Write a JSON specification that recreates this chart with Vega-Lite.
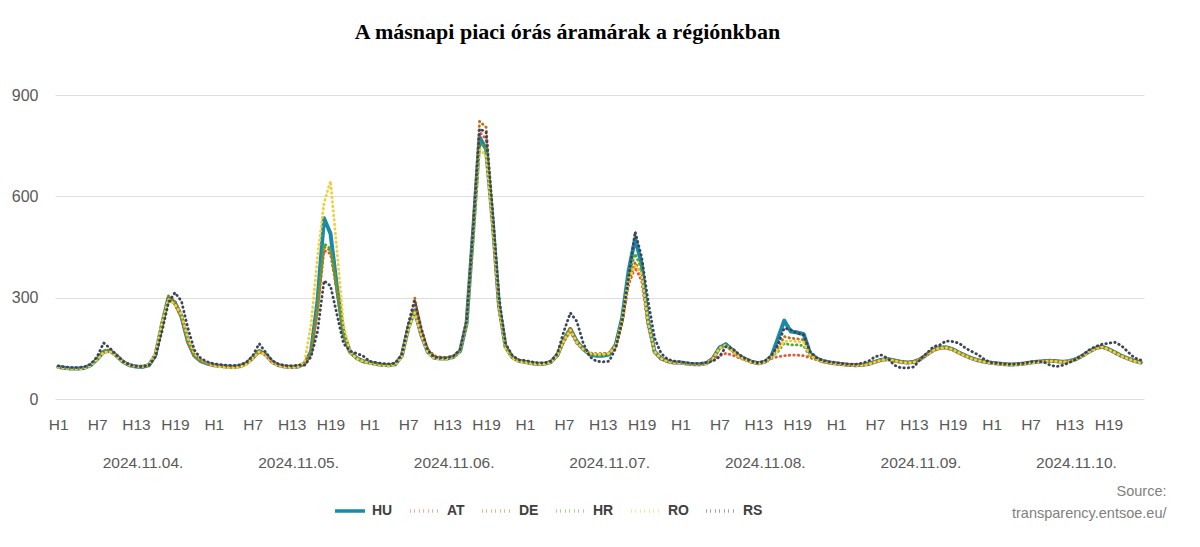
{
  "$schema": "https://vega.github.io/schema/vega-lite/v6.json",
  "width": 1089,
  "height": 304,
  "autosize": {"type": "none"},
  "padding": {"left": 55, "top": 95, "right": 56, "bottom": 148},
  "background": "white",
  "config": {"view": {"stroke": null}},
  "title": {
    "text": "A másnapi piaci órás áramárak a régiónkban",
    "font": "Liberation Serif",
    "fontSize": 22,
    "fontWeight": "bold",
    "color": "#000000",
    "anchor": "middle",
    "baseline": "alphabetic",
    "dx": -32,
    "offset": 26
  },
  "data": {
    "values": [
      {"i":0,"HU":95,"AT":94,"DE":96,"HR":95,"RO":94,"RS":98},
      {"i":1,"HU":92,"AT":91,"DE":93,"HR":92,"RO":91,"RS":95},
      {"i":2,"HU":90,"AT":89,"DE":91,"HR":90,"RO":89,"RS":93},
      {"i":3,"HU":90,"AT":89,"DE":91,"HR":90,"RO":89,"RS":93},
      {"i":4,"HU":92,"AT":91,"DE":93,"HR":92,"RO":91,"RS":95},
      {"i":5,"HU":100,"AT":99,"DE":101,"HR":100,"RO":99,"RS":103},
      {"i":6,"HU":118,"AT":117,"DE":120,"HR":118,"RO":117,"RS":125},
      {"i":7,"HU":140,"AT":139,"DE":144,"HR":141,"RO":138,"RS":166},
      {"i":8,"HU":143,"AT":141,"DE":145,"HR":143,"RO":140,"RS":150},
      {"i":9,"HU":128,"AT":126,"DE":130,"HR":128,"RO":126,"RS":130},
      {"i":10,"HU":110,"AT":109,"DE":112,"HR":110,"RO":110,"RS":112},
      {"i":11,"HU":100,"AT":99,"DE":101,"HR":100,"RO":100,"RS":102},
      {"i":12,"HU":96,"AT":95,"DE":97,"HR":96,"RO":96,"RS":97},
      {"i":13,"HU":95,"AT":94,"DE":96,"HR":95,"RO":96,"RS":96},
      {"i":14,"HU":100,"AT":99,"DE":101,"HR":100,"RO":101,"RS":100},
      {"i":15,"HU":130,"AT":128,"DE":133,"HR":130,"RO":135,"RS":125},
      {"i":16,"HU":220,"AT":215,"DE":225,"HR":218,"RO":225,"RS":200},
      {"i":17,"HU":300,"AT":295,"DE":305,"HR":298,"RO":295,"RS":285},
      {"i":18,"HU":285,"AT":280,"DE":290,"HR":283,"RO":280,"RS":315},
      {"i":19,"HU":245,"AT":242,"DE":248,"HR":244,"RO":250,"RS":290},
      {"i":20,"HU":170,"AT":168,"DE":172,"HR":170,"RO":180,"RS":210},
      {"i":21,"HU":128,"AT":127,"DE":130,"HR":128,"RO":135,"RS":145},
      {"i":22,"HU":112,"AT":111,"DE":113,"HR":112,"RO":117,"RS":120},
      {"i":23,"HU":105,"AT":104,"DE":106,"HR":105,"RO":108,"RS":110},
      {"i":24,"HU":100,"AT":99,"DE":101,"HR":100,"RO":97,"RS":104},
      {"i":25,"HU":98,"AT":97,"DE":99,"HR":98,"RO":95,"RS":102},
      {"i":26,"HU":96,"AT":95,"DE":97,"HR":96,"RO":93,"RS":100},
      {"i":27,"HU":95,"AT":94,"DE":96,"HR":95,"RO":92,"RS":99},
      {"i":28,"HU":97,"AT":96,"DE":98,"HR":97,"RO":94,"RS":101},
      {"i":29,"HU":105,"AT":104,"DE":106,"HR":105,"RO":102,"RS":108},
      {"i":30,"HU":122,"AT":120,"DE":123,"HR":122,"RO":120,"RS":128},
      {"i":31,"HU":142,"AT":140,"DE":144,"HR":142,"RO":140,"RS":164},
      {"i":32,"HU":132,"AT":130,"DE":134,"HR":132,"RO":130,"RS":138},
      {"i":33,"HU":110,"AT":109,"DE":111,"HR":110,"RO":108,"RS":114},
      {"i":34,"HU":100,"AT":99,"DE":101,"HR":100,"RO":98,"RS":103},
      {"i":35,"HU":96,"AT":95,"DE":97,"HR":96,"RO":94,"RS":99},
      {"i":36,"HU":95,"AT":94,"DE":96,"HR":95,"RO":93,"RS":98},
      {"i":37,"HU":96,"AT":95,"DE":97,"HR":96,"RO":95,"RS":100},
      {"i":38,"HU":105,"AT":104,"DE":106,"HR":105,"RO":110,"RS":100},
      {"i":39,"HU":140,"AT":135,"DE":138,"HR":138,"RO":220,"RS":125},
      {"i":40,"HU":290,"AT":260,"DE":270,"HR":275,"RO":420,"RS":200},
      {"i":41,"HU":535,"AT":440,"DE":450,"HR":460,"RO":580,"RS":350},
      {"i":42,"HU":490,"AT":430,"DE":440,"HR":445,"RO":645,"RS":335},
      {"i":43,"HU":330,"AT":320,"DE":325,"HR":322,"RO":440,"RS":250},
      {"i":44,"HU":195,"AT":190,"DE":192,"HR":190,"RO":220,"RS":165},
      {"i":45,"HU":140,"AT":138,"DE":140,"HR":139,"RO":140,"RS":142},
      {"i":46,"HU":122,"AT":120,"DE":122,"HR":121,"RO":120,"RS":135},
      {"i":47,"HU":112,"AT":110,"DE":112,"HR":111,"RO":112,"RS":128},
      {"i":48,"HU":108,"AT":107,"DE":109,"HR":108,"RO":106,"RS":112},
      {"i":49,"HU":104,"AT":103,"DE":105,"HR":104,"RO":102,"RS":108},
      {"i":50,"HU":101,"AT":100,"DE":102,"HR":101,"RO":99,"RS":105},
      {"i":51,"HU":100,"AT":99,"DE":101,"HR":100,"RO":98,"RS":104},
      {"i":52,"HU":103,"AT":102,"DE":104,"HR":103,"RO":101,"RS":106},
      {"i":53,"HU":128,"AT":126,"DE":130,"HR":128,"RO":125,"RS":132},
      {"i":54,"HU":210,"AT":208,"DE":218,"HR":210,"RO":205,"RS":222},
      {"i":55,"HU":262,"AT":265,"DE":300,"HR":262,"RO":255,"RS":290},
      {"i":56,"HU":190,"AT":192,"DE":205,"HR":190,"RO":188,"RS":210},
      {"i":57,"HU":140,"AT":142,"DE":148,"HR":140,"RO":138,"RS":145},
      {"i":58,"HU":122,"AT":124,"DE":128,"HR":122,"RO":120,"RS":124},
      {"i":59,"HU":120,"AT":121,"DE":124,"HR":120,"RO":118,"RS":122},
      {"i":60,"HU":120,"AT":121,"DE":123,"HR":120,"RO":118,"RS":122},
      {"i":61,"HU":125,"AT":126,"DE":128,"HR":125,"RO":123,"RS":127},
      {"i":62,"HU":142,"AT":143,"DE":146,"HR":142,"RO":140,"RS":145},
      {"i":63,"HU":225,"AT":222,"DE":235,"HR":225,"RO":220,"RS":230},
      {"i":64,"HU":495,"AT":490,"DE":510,"HR":495,"RO":480,"RS":500},
      {"i":65,"HU":775,"AT":790,"DE":822,"HR":760,"RO":740,"RS":800},
      {"i":66,"HU":740,"AT":770,"DE":805,"HR":740,"RO":720,"RS":790},
      {"i":67,"HU":530,"AT":520,"DE":545,"HR":528,"RO":515,"RS":560},
      {"i":68,"HU":275,"AT":270,"DE":280,"HR":273,"RO":268,"RS":300},
      {"i":69,"HU":155,"AT":152,"DE":158,"HR":154,"RO":150,"RS":165},
      {"i":70,"HU":125,"AT":123,"DE":127,"HR":124,"RO":122,"RS":130},
      {"i":71,"HU":113,"AT":112,"DE":115,"HR":113,"RO":111,"RS":116},
      {"i":72,"HU":110,"AT":109,"DE":111,"HR":110,"RO":109,"RS":114},
      {"i":73,"HU":106,"AT":105,"DE":107,"HR":106,"RO":105,"RS":110},
      {"i":74,"HU":104,"AT":103,"DE":105,"HR":104,"RO":103,"RS":107},
      {"i":75,"HU":104,"AT":103,"DE":105,"HR":104,"RO":103,"RS":107},
      {"i":76,"HU":110,"AT":108,"DE":111,"HR":110,"RO":109,"RS":112},
      {"i":77,"HU":130,"AT":128,"DE":132,"HR":130,"RO":129,"RS":135},
      {"i":78,"HU":175,"AT":170,"DE":178,"HR":175,"RO":172,"RS":200},
      {"i":79,"HU":207,"AT":200,"DE":212,"HR":207,"RO":204,"RS":255},
      {"i":80,"HU":170,"AT":165,"DE":172,"HR":170,"RO":168,"RS":230},
      {"i":81,"HU":148,"AT":145,"DE":150,"HR":148,"RO":147,"RS":165},
      {"i":82,"HU":132,"AT":135,"DE":136,"HR":132,"RO":135,"RS":125},
      {"i":83,"HU":128,"AT":133,"DE":134,"HR":128,"RO":132,"RS":112},
      {"i":84,"HU":128,"AT":133,"DE":134,"HR":128,"RO":132,"RS":110},
      {"i":85,"HU":132,"AT":135,"DE":137,"HR":132,"RO":135,"RS":112},
      {"i":86,"HU":160,"AT":155,"DE":158,"HR":160,"RO":157,"RS":150},
      {"i":87,"HU":240,"AT":225,"DE":230,"HR":238,"RO":232,"RS":230},
      {"i":88,"HU":380,"AT":340,"DE":350,"HR":370,"RO":355,"RS":360},
      {"i":89,"HU":475,"AT":390,"DE":405,"HR":430,"RO":395,"RS":495},
      {"i":90,"HU":400,"AT":350,"DE":365,"HR":385,"RO":370,"RS":420},
      {"i":91,"HU":230,"AT":215,"DE":222,"HR":228,"RO":225,"RS":290},
      {"i":92,"HU":140,"AT":138,"DE":142,"HR":140,"RO":140,"RS":180},
      {"i":93,"HU":120,"AT":118,"DE":121,"HR":120,"RO":120,"RS":135},
      {"i":94,"HU":112,"AT":110,"DE":113,"HR":112,"RO":111,"RS":118},
      {"i":95,"HU":108,"AT":106,"DE":109,"HR":108,"RO":107,"RS":112},
      {"i":96,"HU":108,"AT":107,"DE":109,"HR":108,"RO":107,"RS":110},
      {"i":97,"HU":105,"AT":104,"DE":106,"HR":105,"RO":104,"RS":107},
      {"i":98,"HU":103,"AT":102,"DE":104,"HR":103,"RO":102,"RS":105},
      {"i":99,"HU":103,"AT":102,"DE":104,"HR":103,"RO":102,"RS":105},
      {"i":100,"HU":106,"AT":105,"DE":107,"HR":106,"RO":105,"RS":108},
      {"i":101,"HU":120,"AT":115,"DE":122,"HR":120,"RO":119,"RS":112},
      {"i":102,"HU":152,"AT":128,"DE":150,"HR":150,"RO":150,"RS":125},
      {"i":103,"HU":162,"AT":135,"DE":158,"HR":160,"RO":160,"RS":155},
      {"i":104,"HU":145,"AT":130,"DE":142,"HR":144,"RO":143,"RS":150},
      {"i":105,"HU":128,"AT":122,"DE":127,"HR":127,"RO":126,"RS":132},
      {"i":106,"HU":118,"AT":115,"DE":117,"HR":117,"RO":116,"RS":120},
      {"i":107,"HU":110,"AT":108,"DE":110,"HR":110,"RO":109,"RS":112},
      {"i":108,"HU":106,"AT":105,"DE":106,"HR":106,"RO":105,"RS":107},
      {"i":109,"HU":110,"AT":108,"DE":111,"HR":110,"RO":109,"RS":112},
      {"i":110,"HU":125,"AT":120,"DE":128,"HR":124,"RO":124,"RS":128},
      {"i":111,"HU":178,"AT":125,"DE":150,"HR":140,"RO":145,"RS":160},
      {"i":112,"HU":232,"AT":128,"DE":185,"HR":165,"RO":170,"RS":210},
      {"i":113,"HU":200,"AT":130,"DE":180,"HR":160,"RO":172,"RS":205},
      {"i":114,"HU":197,"AT":130,"DE":178,"HR":160,"RO":170,"RS":195},
      {"i":115,"HU":192,"AT":128,"DE":175,"HR":158,"RO":168,"RS":190},
      {"i":116,"HU":135,"AT":122,"DE":130,"HR":125,"RO":128,"RS":140},
      {"i":117,"HU":120,"AT":116,"DE":118,"HR":117,"RO":118,"RS":122},
      {"i":118,"HU":112,"AT":110,"DE":111,"HR":111,"RO":111,"RS":114},
      {"i":119,"HU":108,"AT":106,"DE":107,"HR":107,"RO":107,"RS":110},
      {"i":120,"HU":105,"AT":104,"DE":106,"HR":105,"RO":104,"RS":108},
      {"i":121,"HU":103,"AT":102,"DE":104,"HR":103,"RO":102,"RS":105},
      {"i":122,"HU":101,"AT":100,"DE":102,"HR":101,"RO":100,"RS":103},
      {"i":123,"HU":100,"AT":99,"DE":101,"HR":100,"RO":99,"RS":103},
      {"i":124,"HU":101,"AT":100,"DE":102,"HR":101,"RO":100,"RS":106},
      {"i":125,"HU":104,"AT":103,"DE":105,"HR":104,"RO":103,"RS":112},
      {"i":126,"HU":110,"AT":109,"DE":111,"HR":110,"RO":109,"RS":125},
      {"i":127,"HU":116,"AT":115,"DE":117,"HR":116,"RO":115,"RS":130},
      {"i":128,"HU":118,"AT":117,"DE":119,"HR":118,"RO":117,"RS":120},
      {"i":129,"HU":114,"AT":113,"DE":115,"HR":114,"RO":113,"RS":100},
      {"i":130,"HU":110,"AT":109,"DE":111,"HR":110,"RO":109,"RS":92},
      {"i":131,"HU":108,"AT":107,"DE":109,"HR":108,"RO":107,"RS":92},
      {"i":132,"HU":110,"AT":109,"DE":111,"HR":110,"RO":109,"RS":95},
      {"i":133,"HU":118,"AT":117,"DE":119,"HR":118,"RO":117,"RS":118},
      {"i":134,"HU":132,"AT":130,"DE":133,"HR":132,"RO":131,"RS":135},
      {"i":135,"HU":145,"AT":143,"DE":146,"HR":145,"RO":144,"RS":155},
      {"i":136,"HU":152,"AT":150,"DE":153,"HR":152,"RO":151,"RS":160},
      {"i":137,"HU":153,"AT":151,"DE":154,"HR":153,"RO":152,"RS":172},
      {"i":138,"HU":147,"AT":145,"DE":148,"HR":147,"RO":146,"RS":170},
      {"i":139,"HU":137,"AT":135,"DE":138,"HR":137,"RO":136,"RS":165},
      {"i":140,"HU":128,"AT":126,"DE":129,"HR":128,"RO":127,"RS":150},
      {"i":141,"HU":120,"AT":118,"DE":121,"HR":120,"RO":119,"RS":140},
      {"i":142,"HU":114,"AT":113,"DE":115,"HR":114,"RO":113,"RS":130},
      {"i":143,"HU":110,"AT":109,"DE":111,"HR":110,"RO":109,"RS":115},
      {"i":144,"HU":107,"AT":106,"DE":108,"HR":107,"RO":106,"RS":108},
      {"i":145,"HU":105,"AT":104,"DE":106,"HR":105,"RO":104,"RS":106},
      {"i":146,"HU":103,"AT":102,"DE":104,"HR":103,"RO":102,"RS":104},
      {"i":147,"HU":102,"AT":101,"DE":103,"HR":102,"RO":101,"RS":103},
      {"i":148,"HU":103,"AT":102,"DE":104,"HR":103,"RO":102,"RS":104},
      {"i":149,"HU":105,"AT":104,"DE":106,"HR":105,"RO":104,"RS":106},
      {"i":150,"HU":108,"AT":107,"DE":109,"HR":108,"RO":107,"RS":110},
      {"i":151,"HU":110,"AT":109,"DE":111,"HR":110,"RO":109,"RS":112},
      {"i":152,"HU":112,"AT":111,"DE":113,"HR":112,"RO":111,"RS":110},
      {"i":153,"HU":113,"AT":112,"DE":114,"HR":113,"RO":112,"RS":100},
      {"i":154,"HU":112,"AT":111,"DE":113,"HR":112,"RO":111,"RS":96},
      {"i":155,"HU":110,"AT":109,"DE":111,"HR":110,"RO":109,"RS":100},
      {"i":156,"HU":112,"AT":111,"DE":113,"HR":112,"RO":111,"RS":108},
      {"i":157,"HU":118,"AT":117,"DE":119,"HR":118,"RO":117,"RS":118},
      {"i":158,"HU":128,"AT":127,"DE":129,"HR":128,"RO":127,"RS":130},
      {"i":159,"HU":140,"AT":139,"DE":141,"HR":140,"RO":139,"RS":145},
      {"i":160,"HU":150,"AT":149,"DE":151,"HR":150,"RO":149,"RS":155},
      {"i":161,"HU":155,"AT":154,"DE":156,"HR":155,"RO":154,"RS":162},
      {"i":162,"HU":148,"AT":147,"DE":149,"HR":148,"RO":147,"RS":165},
      {"i":163,"HU":138,"AT":137,"DE":139,"HR":138,"RO":137,"RS":168},
      {"i":164,"HU":128,"AT":127,"DE":129,"HR":128,"RO":127,"RS":158},
      {"i":165,"HU":120,"AT":119,"DE":121,"HR":120,"RO":119,"RS":140},
      {"i":166,"HU":113,"AT":112,"DE":114,"HR":113,"RO":112,"RS":122},
      {"i":167,"HU":108,"AT":107,"DE":109,"HR":108,"RO":107,"RS":115}
    ]
  },
  "transform": [
    {"fold": ["HU", "AT", "DE", "HR", "RO", "RS"], "as": ["series", "price"]}
  ],
  "encoding": {
    "x": {
      "field": "i",
      "type": "quantitative",
      "scale": {"domain": [-0.5, 167.5], "nice": false, "zero": false},
      "axis": {
        "values": [0,6,12,13,18,24,30,36,37,42,48,54,60,61,66,72,78,84,85,90,96,102,108,109,114,120,126,132,133,138,144,150,156,157,162],
        "labelExpr": "datum.value % 24 == 13 ? ['', '2024.11.' + ((floor(datum.value / 24) + 4) < 10 ? '0' : '') + (floor(datum.value / 24) + 4) + '.'] : 'H' + (datum.value % 24 + 1)",
        "grid": false,
        "ticks": false,
        "domain": false,
        "labelPadding": 18,
        "labelBaseline": "top",
        "labelLineHeight": 38,
        "labelOverlap": false,
        "labelBound": false,
        "labelFlush": false,
        "labelFont": "Liberation Sans",
        "labelFontSize": 15.5,
        "labelColor": "#595959",
        "title": ["Source:", "transparency.entsoe.eu/"],
        "titleFont": "Liberation Sans",
        "titleFontSize": 14.5,
        "titleFontWeight": "normal",
        "titleColor": "#7f7f7f",
        "titleAlign": "right",
        "titleAnchor": "end",
        "titleBaseline": "top",
        "titleLineHeight": 22,
        "titleX": 1111,
        "titleY": 85
      }
    },
    "y": {
      "field": "price",
      "type": "quantitative",
      "scale": {"domain": [0, 900], "nice": false},
      "axis": {
        "values": [0, 300, 600, 900],
        "title": null,
        "domain": false,
        "ticks": false,
        "grid": true,
        "gridColor": "#dedede",
        "gridWidth": 1,
        "labelPadding": 17,
        "labelFont": "Liberation Sans",
        "labelFontSize": 16,
        "labelColor": "#595959"
      }
    },
    "color": {
      "field": "series",
      "type": "nominal",
      "scale": {
        "domain": ["HU", "AT", "DE", "HR", "RO", "RS"],
        "range": ["#1b8aa8", "#e8573a", "#b8701a", "#4ea832", "#f0cf3a", "#3d4559"]
      },
      "legend": {
        "title": null,
        "orient": "none",
        "direction": "horizontal",
        "legendX": 278,
        "legendY": 399,
        "symbolType": "stroke",
        "symbolSize": 900,
        "symbolStrokeWidth": 3.5,
        "labelFont": "Liberation Sans",
        "labelFontSize": 14,
        "labelFontWeight": "bold",
        "labelColor": "#404040",
        "labelOffset": 5,
        "columnPadding": 10
      }
    },
    "strokeDash": {
      "field": "series",
      "type": "nominal",
      "scale": {
        "domain": ["HU", "AT", "DE", "HR", "RO", "RS"],
        "range": [[1, 0], [0.5, 4], [0.5, 4], [0.5, 4], [0.5, 4], [0.5, 4]]
      },
      "legend": {
        "title": null,
        "orient": "none",
        "direction": "horizontal",
        "legendX": 278,
        "legendY": 399
      }
    }
  },
  "layer": [
    {
      "transform": [{"filter": "datum.series == 'HU'"}],
      "mark": {"type": "line", "strokeWidth": 4, "strokeCap": "round", "strokeJoin": "round"}
    },
    {
      "transform": [{"filter": "datum.series != 'HU'"}],
      "mark": {"type": "line", "strokeWidth": 2.8, "strokeCap": "round", "strokeJoin": "round"}
    }
  ]
}
